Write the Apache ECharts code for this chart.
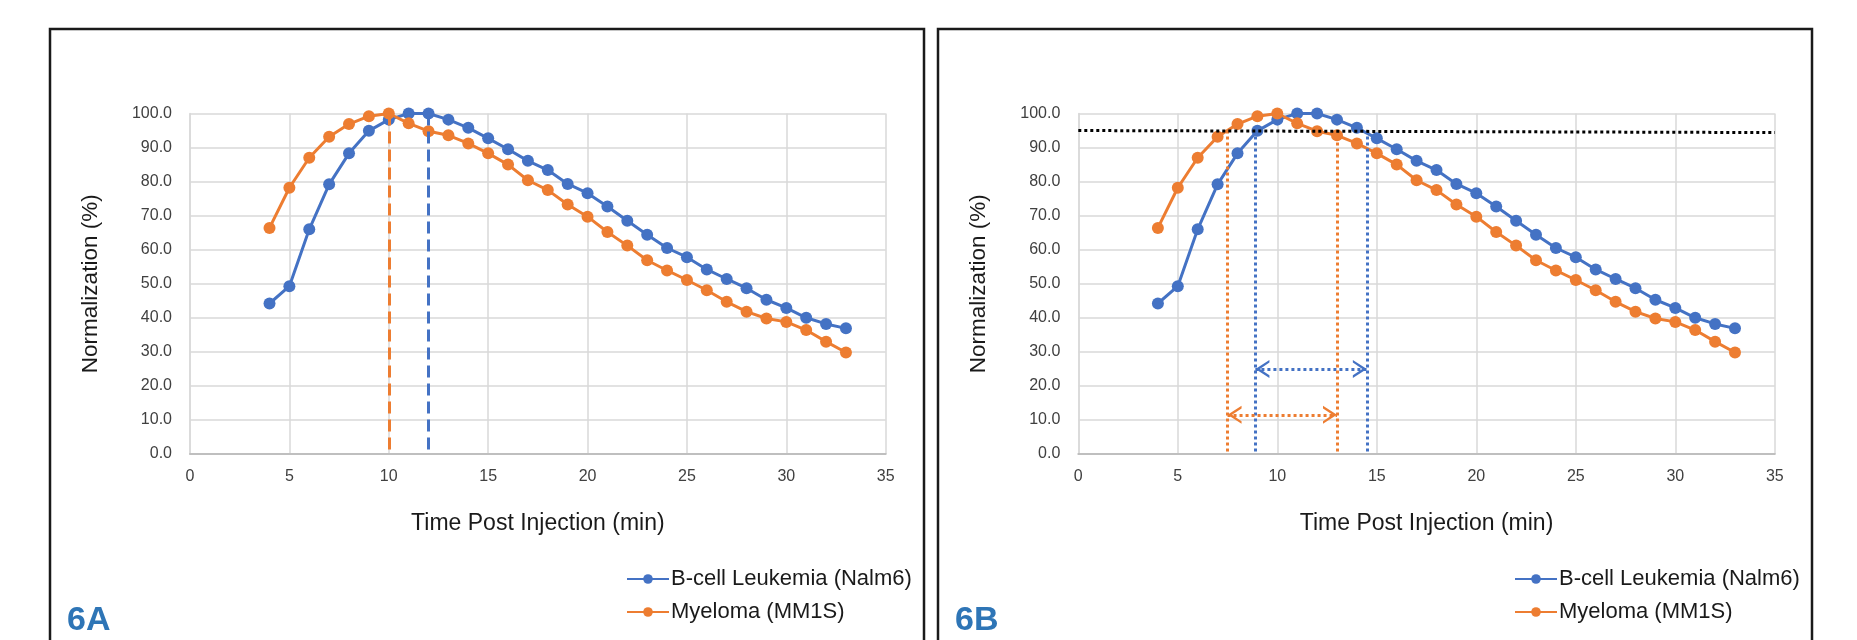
<!DOCTYPE html>
<html>
<head>
<meta charset="utf-8">
<script src="https://cdn.jsdelivr.net/npm/echarts@6/dist/echarts.min.js"></script>
<style>
  html, body { margin: 0; padding: 0; background: #fff; }
  #main { width: 1857px; height: 640px; }
</style>
</head>
<body>
<div id="main"></div>
<script>
// time post injection (min)
var times = [4, 5, 6, 7, 8, 9, 10, 11, 12, 13, 14, 15, 16, 17, 18, 19, 20, 21, 22, 23, 24, 25, 26, 27, 28, 29, 30, 31, 32, 33];
// B-cell Leukemia (Nalm6), normalization %
var nalm6 = [44.2, 49.3, 66.0, 79.2, 88.3, 94.9, 98.2, 100.0, 100.0, 98.2, 95.8, 92.7, 89.5, 86.1, 83.4, 79.3, 76.6, 72.7, 68.5, 64.4, 60.5, 57.8, 54.2, 51.4, 48.7, 45.3, 42.9, 40.0, 38.2, 36.9];
// Myeloma (MM1S), normalization %
var mm1s = [66.4, 78.2, 87.0, 93.2, 96.9, 99.2, 100.0, 97.1, 94.8, 93.6, 91.2, 88.3, 85.0, 80.4, 77.5, 73.3, 69.7, 65.2, 61.2, 56.9, 53.9, 51.1, 48.1, 44.7, 41.8, 39.8, 38.8, 36.4, 33.0, 29.8];

var seriesNames = ["B-cell Leukemia (Nalm6)", "Myeloma (MM1S)"];
var panelLabels = ["6A", "6B"];

// axis ticks
var xTicks = [0, 5, 10, 15, 20, 25, 30, 35];
var yTicks = [0, 10, 20, 30, 40, 50, 60, 70, 80, 90, 100];

// annotations
var peakNalm6 = 12;      // 6A blue dashed
var peakMm1s = 10;       // 6A orange dashed
var thresholdLevel = [95.0, 94.4];   // 6B black dotted line, left and right end
var windowNalm6 = [8.9, 14.5];
var windowMm1s = [7.5, 13.0];
var arrowLevelNalm6 = 25;
var arrowLevelMm1s = 11.5;

var BLUE = "#4472C4";
var ORANGE = "#ED7D31";
var FONT = "Liberation Sans";

var chart = echarts.init(document.getElementById("main"));

function pairs(ys) {
  return times.map(function (t, i) { return [t, ys[i]]; });
}

var grids = [
  { left: 190, top: 113.5, width: 695.7, height: 340.5 },
  { left: 1078.3, top: 113.5, width: 696.5, height: 340.5 }
];

function xAxisFor(g) {
  return {
    gridIndex: g, type: "value",
    min: xTicks[0], max: xTicks[xTicks.length - 1], interval: xTicks[1] - xTicks[0],
    name: "Time Post Injection (min)", nameLocation: "middle", nameGap: 58,
    nameTextStyle: { fontFamily: FONT, fontSize: 23, color: "#1a1a1a" },
    axisLine: { show: true, lineStyle: { color: "#bfbfbf", width: 2 } },
    axisTick: { show: false },
    axisLabel: { margin: 15, fontFamily: FONT, fontSize: 16, color: "#404040" },
    splitLine: { show: true, lineStyle: { color: "#d9d9d9", width: 1.5 } }
  };
}

function yAxisFor(g) {
  return {
    gridIndex: g, type: "value",
    min: yTicks[0], max: yTicks[yTicks.length - 1], interval: yTicks[1] - yTicks[0],
    name: "Normalization (%)", nameLocation: "middle", nameGap: 88,
    nameTextStyle: { fontFamily: FONT, fontSize: 22.5, color: "#1a1a1a" },
    axisLine: { show: true, lineStyle: { color: "#d9d9d9", width: 1.5 } },
    axisTick: { show: false },
    axisLabel: {
      margin: 18, fontFamily: FONT, fontSize: 16, color: "#404040",
      formatter: function (v) { return v.toFixed(1); }
    },
    splitLine: { show: true, lineStyle: { color: "#d9d9d9", width: 1.5 } }
  };
}

// open chevron, tip at the symbol centre (blank move above it keeps the box symmetric)
var chevron = "path://M10,-14 L10,-14 M0,14 L10,0 L20,14 L17,14 L10,4.5 L3,14 Z";

function lineSeries(name, ys, color, g, markLine) {
  var s = {
    name: name, type: "line",
    xAxisIndex: g, yAxisIndex: g,
    data: pairs(ys),
    symbol: "circle", symbolSize: 12,
    lineStyle: { color: color, width: 3 },
    itemStyle: { color: color },
    animation: false
  };
  if (markLine) s.markLine = markLine;
  return s;
}

function vline(x, yTop, yBottom) {
  return [{ coord: [x, yTop] }, { coord: [x, yBottom] }];
}

function arrow(x0, x1, y) {
  return [
    { coord: [x0, y], symbol: chevron, symbolSize: [18, 28] },
    { coord: [x1, y], symbol: chevron, symbolSize: [18, 28] }
  ];
}

var series = [
  // 6A
  lineSeries(seriesNames[0], nalm6, BLUE, 0, {
    silent: true, symbol: "none", label: { show: false },
    lineStyle: { color: BLUE, width: 3, type: [12, 6] },
    data: [vline(peakNalm6, 100, 0)]
  }),
  lineSeries(seriesNames[1], mm1s, ORANGE, 0, {
    silent: true, symbol: "none", label: { show: false },
    lineStyle: { color: ORANGE, width: 3, type: [12, 6] },
    data: [vline(peakMm1s, 100, 0)]
  }),
  // 6B
  lineSeries(seriesNames[0], nalm6, BLUE, 1, {
    silent: true, symbol: "none", label: { show: false },
    lineStyle: { color: BLUE, width: 3, type: [3, 3] },
    data: [
      vline(windowNalm6[0], thresholdLevel[0], 0),
      vline(windowNalm6[1], thresholdLevel[0], 0),
      arrow(windowNalm6[0], windowNalm6[1], arrowLevelNalm6)
    ]
  }),
  lineSeries(seriesNames[1], mm1s, ORANGE, 1, {
    silent: true, symbol: "none", label: { show: false },
    lineStyle: { color: ORANGE, width: 3, type: [3, 3] },
    data: [
      vline(windowMm1s[0], thresholdLevel[0], 0),
      vline(windowMm1s[1], thresholdLevel[0], 0),
      arrow(windowMm1s[0], windowMm1s[1], arrowLevelMm1s)
    ]
  }),
  {
    name: "threshold", type: "line", xAxisIndex: 1, yAxisIndex: 1,
    data: [], silent: true, animation: false,
    markLine: {
      silent: true, symbol: "none", label: { show: false },
      lineStyle: { color: "#000", width: 3, type: [3, 3] },
      data: [[{ coord: [xTicks[0], thresholdLevel[0]] }, { coord: [xTicks[xTicks.length - 1], thresholdLevel[1]] }]]
    }
  }
];

function legendFor(left) {
  return {
    left: left, top: 563, orient: "vertical",
    itemWidth: 42, itemHeight: 12, itemGap: 11,
    data: seriesNames,
    textStyle: { fontFamily: FONT, fontSize: 22, color: "#1a1a1a", padding: [0, 0, 0, -3] },
    selectedMode: false
  };
}

var frameStyle = { fill: "none", stroke: "#1a1a1a", lineWidth: 2.5 };

chart.setOption({
  backgroundColor: "#fff",
  animation: false,
  grid: grids,
  xAxis: [xAxisFor(0), xAxisFor(1)],
  yAxis: [yAxisFor(0), yAxisFor(1)],
  legend: [legendFor(621), legendFor(1509)],
  series: series,
  graphic: [
    { type: "rect", shape: { x: 50, y: 29, width: 874, height: 640 }, style: frameStyle, silent: true },
    { type: "rect", shape: { x: 938, y: 29, width: 874, height: 640 }, style: frameStyle, silent: true },
    { type: "text", left: 67, top: 604, style: { text: panelLabels[0], font: "bold 34px " + FONT, fill: "#2E75B6" } },
    { type: "text", left: 955, top: 604, style: { text: panelLabels[1], font: "bold 34px " + FONT, fill: "#2E75B6" } }
  ]
});
</script>
</body>
</html>
